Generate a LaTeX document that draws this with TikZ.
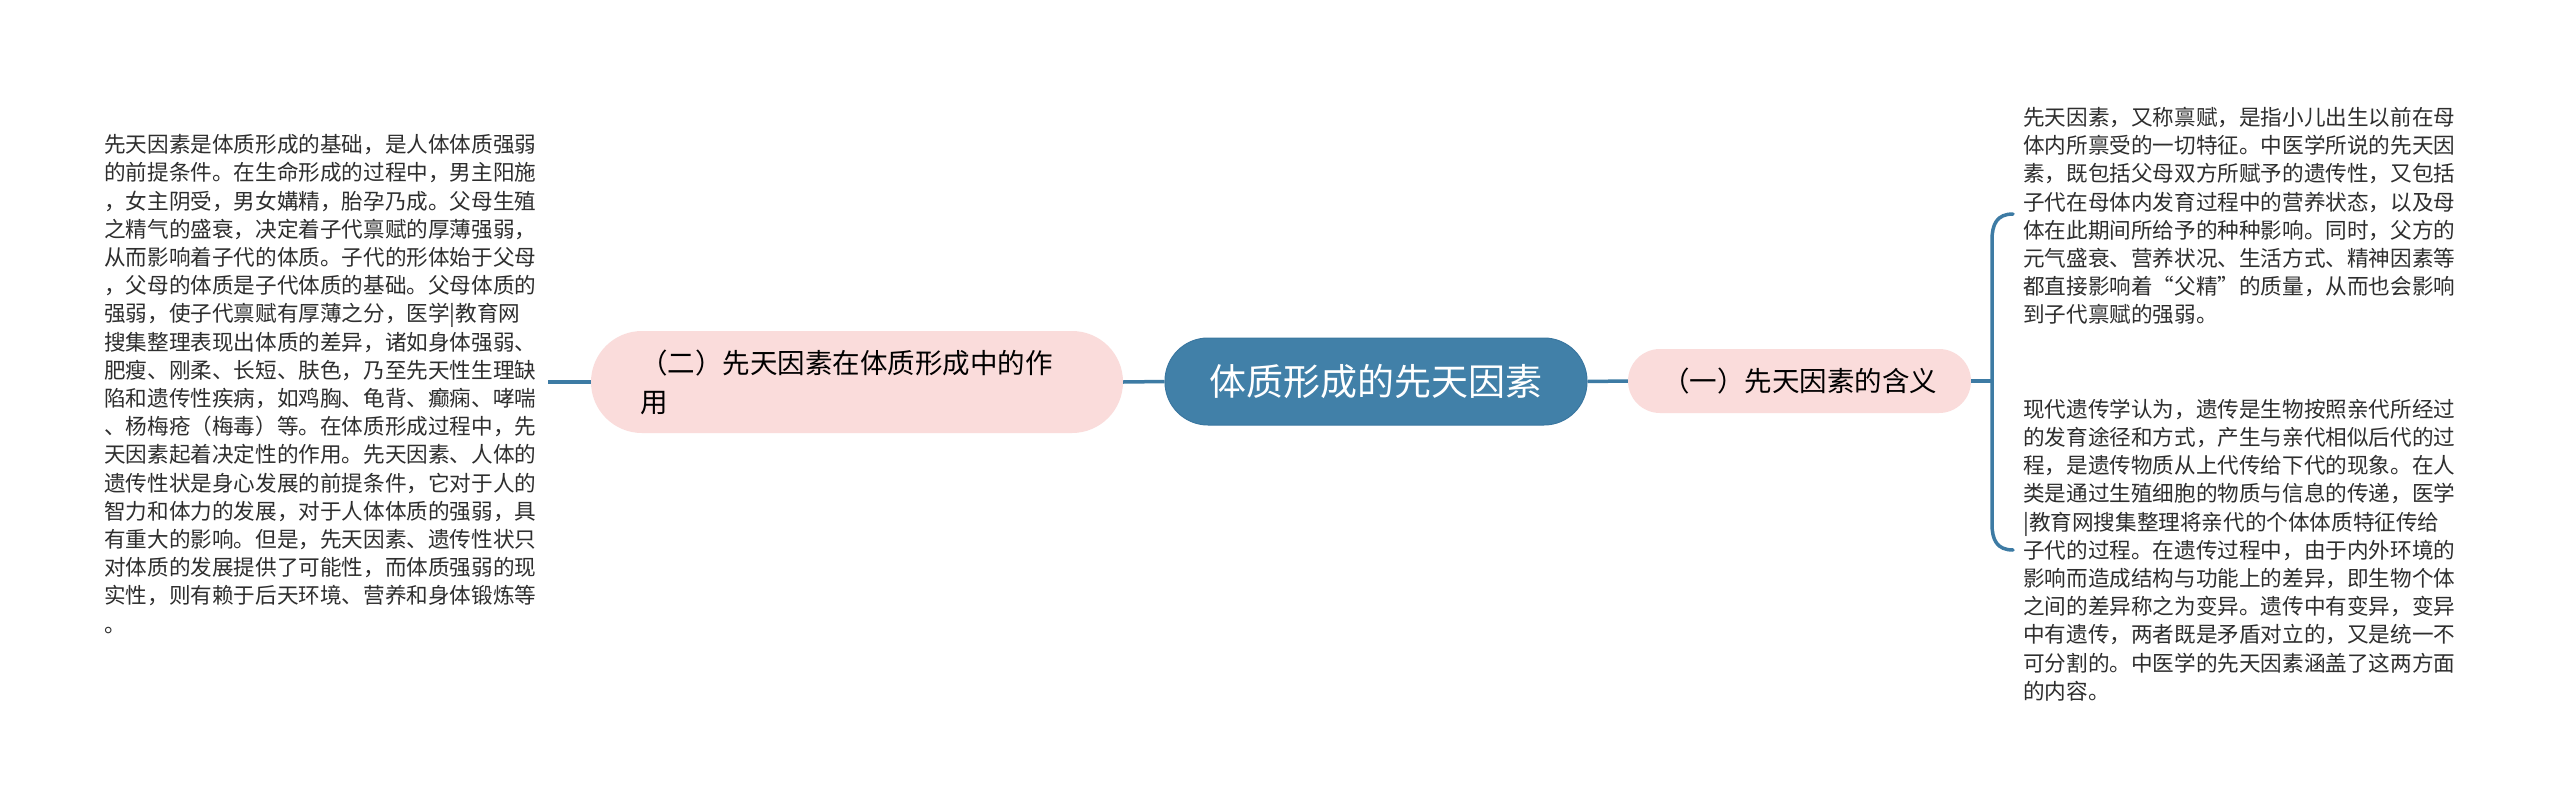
\documentclass[tikz,border=0pt]{standalone}
\usepackage{fontspec}
\setmainfont{Noto Sans CJK SC}
\definecolor{rootblue}{HTML}{4180A8}
\definecolor{rootedge}{HTML}{3A77A0}
\definecolor{linkblue}{HTML}{3D7BA4}
\definecolor{pinkfill}{HTML}{FADCDB}
\definecolor{leaftext}{HTML}{2E2E2E}
\tikzset{
  rootbox/.style={draw=rootedge, line width=1pt, fill=rootblue, text=white, rounded corners=43pt,
    minimum width=422pt, minimum height=87pt, inner sep=0pt,
    font=\fontsize{37}{40}\selectfont},
  subbox/.style={fill=pinkfill, draw=none, text=black, inner sep=0pt,
    font=\fontsize{27.5}{39}\selectfont},
  leaf/.style={align=left, inner sep=0pt, text=leaftext,
    font=\fontsize{21.6}{28.2}\selectfont},
  conn/.style={draw=linkblue, line width=3.5pt},
}
\begin{document}
\begin{tikzpicture}[x=1pt,y=-1pt]
\useasboundingbox[fill=white] (0,0) rectangle (2560,806);

\node[rootbox] (root) at (1376,381.5) {体质形成的先天因素};

\node[subbox, rounded corners=51pt, minimum width=532pt, minimum height=102pt] (n2) at (857,382) {};
\node[anchor=west, align=left, inner sep=0pt, font=\fontsize{27.5}{39}\selectfont] (n2t) at (640,382)
  {（二）先天因素在体质形成中的作\\用};

\node[subbox, rounded corners=32pt, minimum width=343pt, minimum height=64pt] (n1) at (1799.5,381) {（一）先天因素的含义};

\node[leaf, anchor=west] (t2) at (104,384) {%
先天因素是体质形成的基础，是人体体质强弱\\
的前提条件。在生命形成的过程中，男主阳施\\
，女主阴受，男女媾精，胎孕乃成。父母生殖\\
之精气的盛衰，决定着子代禀赋的厚薄强弱，\\
从而影响着子代的体质。子代的形体始于父母\\
，父母的体质是子代体质的基础。父母体质的\\
强弱，使子代禀赋有厚薄之分，医学|教育网\\
搜集整理表现出体质的差异，诸如身体强弱、\\
肥瘦、刚柔、长短、肤色，乃至先天性生理缺\\
陷和遗传性疾病，如鸡胸、龟背、癫痫、哮喘\\
、杨梅疮（梅毒）等。在体质形成过程中，先\\
天因素起着决定性的作用。先天因素、人体的\\
遗传性状是身心发展的前提条件，它对于人的\\
智力和体力的发展，对于人体体质的强弱，具\\
有重大的影响。但是，先天因素、遗传性状只\\
对体质的发展提供了可能性，而体质强弱的现\\
实性，则有赖于后天环境、营养和身体锻炼等\\
。};

\node[leaf, anchor=west] (t1a) at (2023,216) {%
先天因素，又称禀赋，是指小儿出生以前在母\\
体内所禀受的一切特征。中医学所说的先天因\\
素，既包括父母双方所赋予的遗传性，又包括\\
子代在母体内发育过程中的营养状态，以及母\\
体在此期间所给予的种种影响。同时，父方的\\
元气盛衰、营养状况、生活方式、精神因素等\\
都直接影响着“父精”的质量，从而也会影响\\
到子代禀赋的强弱。};

\node[leaf, anchor=west] (t1b) at (2023,550) {%
现代遗传学认为，遗传是生物按照亲代所经过\\
的发育途径和方式，产生与亲代相似后代的过\\
程，是遗传物质从上代传给下代的现象。在人\\
类是通过生殖细胞的物质与信息的传递，医学\\
|教育网搜集整理将亲代的个体体质特征传给\\
子代的过程。在遗传过程中，由于内外环境的\\
影响而造成结构与功能上的差异，即生物个体\\
之间的差异称之为变异。遗传中有变异，变异\\
中有遗传，两者既是矛盾对立的，又是统一不\\
可分割的。中医学的先天因素涵盖了这两方面\\
的内容。};

\coordinate (t2end) at (548,382);
\coordinate (bmid) at (1992,381);
\coordinate (btop) at (2013,214);
\coordinate (bbot) at (2013,550);

\draw[conn] (root.west) -- (n2.east);
\draw[conn] (n2.west) -- (t2end);
\draw[conn] (root.east) -- (n1.west);
\draw[conn] (n1.east) -- (bmid);
\draw[conn, line cap=round] (btop) .. controls (1997,214) and (1992,224) .. (1992,240)
  -- (1992,524) .. controls (1992,540) and (1997,550) .. (bbot);
\end{tikzpicture}
\end{document}
